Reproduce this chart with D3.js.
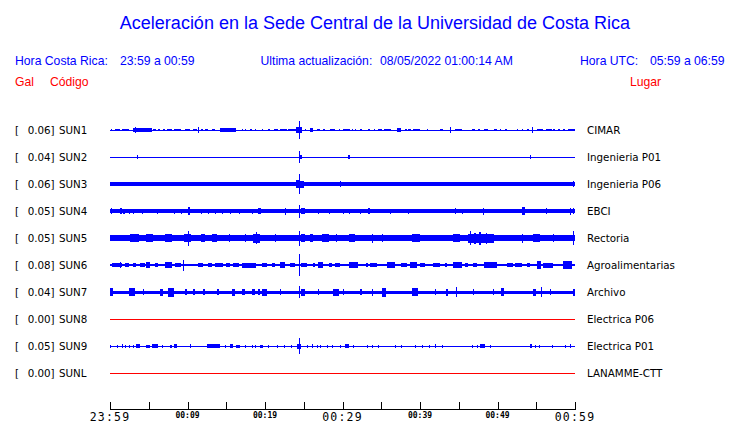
<!DOCTYPE html>
<html><head><meta charset="utf-8">
<script src="https://cdn.jsdelivr.net/npm/d3@7"></script>
<style>body{margin:0;background:#fff}svg{display:block}</style>
</head><body>
<script>
// ---------- data ----------
const title = "Aceleración en la Sede Central de la Universidad de Costa Rica";
const horaCR = "23:59 a 00:59";
const horaUTC = "05:59 a 06:59";
const updated = "08/05/2022 01:00:14 AM";

const codes  = ["SUN1","SUN2","SUN3","SUN4","SUN5","SUN6","SUN7","SUN8","SUN9","SUNL"];
const places = ["CIMAR","Ingenieria P01","Ingenieria P06","EBCI","Rectoria","Agroalimentarias","Archivo","Electrica P06","Electrica P01","LANAMME-CTT"];
const gals   = [0.06,0.04,0.06,0.05,0.05,0.08,0.04,0.00,0.05,0.00];
// background (noise) half-amplitude of each trace, relative units
const baseAmps = [0.5,0.5,1.6,1.8,3.1,0.8,1.5,0.5,0.5,0.5];

// minutes after 23:59
const tickMinutes  = [0,5,10,15,20,25,30,35,40,45,50,55,60];
const labelMinutes = [0,10,20,30,40,50,60];
const labelTexts   = ["23:59","00:09","00:19","00:29","00:39","00:49","00:59"];
const bigLabels    = ["23:59","00:29","00:59"];

// bursts: [start minute, end minute, half-amplitude]
const sun1Events = [[0.1,0.3,1.4],[0.65,1.3,1.4],[1.5,2.4,1.4],[3.0,5.4,1.6],[3.2,3.3,3],[5.6,5.9,1.4],[6.2,6.4,1.4],[6.9,7.1,1.4],[7.3,8.0,1.4],[8.2,9.2,1.4],[9.7,10.3,1.4],[10.75,11.2,1.4],[11.3,11.3,3],[11.8,12.0,1.4],[12.3,12.7,1.4],[13.1,13.5,1.4],[14.2,16.3,1.6],[17.0,17.2,1.4],[17.4,17.5,1.4],[18.1,18.3,1.4],[18.7,18.9,1.4],[19.6,19.7,1.4],[20.4,20.6,1.4],[21.1,21.7,1.4],[21.9,22.8,1.4],[23.0,23.3,1.4],[23.4,24.1,1.4],[24.0,24.8,3],[24.4,24.4,9],[25.2,25.3,1.4],[25.8,26.2,2.2],[26.7,27.1,1.4],[27.5,27.7,1.4],[28.4,29.0,1.4],[29.5,29.7,1.4],[30.0,31.0,1.4],[31.2,31.4,1.4],[31.6,31.8,1.4],[32.3,32.5,1.4],[33.3,33.5,1.4],[34.0,34.2,1.4],[34.6,35.1,1.4],[35.3,36.3,1.4],[37.0,37.6,2.2],[38.1,38.3,1.4],[38.5,38.9,1.4],[39.1,40.0,1.4],[40.9,41.0,1.4],[42.6,43.0,1.4],[43.9,43.9,3],[44.5,45.4,1.4],[46.7,47.1,1.4],[47.5,47.7,1.4],[48.2,48.8,1.4],[49.5,49.9,1.4],[50.3,50.5,1.4],[51.0,51.2,1.4],[52.5,52.6,1.4],[53.1,53.3,1.4],[53.8,54.0,1.4],[54.5,54.5,3],[55.1,55.9,1.4],[56.3,57.0,1.4],[57.2,57.4,1.4],[57.8,58.0,1.4],[58.5,58.7,1.4],[59.1,60.0,1.4]];
const sun2Events = [[3.5,3.5,2],[24.4,24.4,6],[24.45,24.8,2],[30.7,31.0,2],[54.2,54.3,2]];
const sun3Events = [[0,1.0,2],[24.0,24.4,4],[24.4,24.4,10],[24.45,25.0,3.5],[29.7,29.7,3],[59.8,59.9,3]];
const sun4Events = [[0.1,0.2,2.7],[1.3,1.5,2.7],[1.7,1.9,2.5],[2.4,2.6,2.5],[3.0,3.0,2.5],[4.1,4.1,2.5],[6.0,6.0,2.5],[8.2,8.2,2.5],[9.2,9.2,2.5],[10.1,10.3,4.2],[11.8,11.8,2.5],[12.7,12.7,2.5],[13.5,13.5,2.5],[14.4,14.4,2.5],[15.5,15.5,2.5],[16.6,16.6,2.5],[18.3,18.3,2.5],[19.1,19.5,3],[22.6,22.6,3.5],[24.4,24.4,6.5],[24.7,25.2,2.7],[26.9,26.9,2.5],[28.2,28.2,2.5],[30.1,30.1,2.5],[30.9,30.9,2.5],[32.3,32.3,2.5],[33.3,33.5,3],[36.1,36.1,2.5],[38.5,38.5,2.5],[44.5,44.5,3],[45.4,45.4,2.5],[48.1,48.2,3.5],[53.2,53.5,4],[56.2,56.2,2.7],[59.4,59.4,3.5],[59.7,59.7,3]];
const sun5Events = [[2.6,3.7,4.3],[4.7,5.6,4],[7.1,8.0,4],[9.5,10.5,4.3],[10.1,10.1,7.5],[11.8,12.3,4],[13.1,13.8,4],[15.3,15.4,4],[17.4,17.5,4],[18.5,19.4,4.5],[18.9,18.9,5.8],[21.3,21.4,4],[24.4,24.4,7.5],[24.7,25.2,4.3],[25.8,26.2,4],[27.3,28.2,4.3],[29.2,29.3,4],[30.8,31.6,4.3],[33.8,33.9,4.5],[35.1,35.2,4],[39.0,40.0,4.3],[44.3,45.2,4],[46.2,49.5,4.5],[46.4,46.5,7],[47.0,47.2,5.5],[47.6,47.9,6.5],[48.5,48.7,5.5],[53.1,53.2,4.5],[54.6,55.5,4],[57.2,57.3,4],[59.8,59.9,7]];
const sun6Events = [[0.2,1.5,2.4],[1.3,1.3,3.2],[1.9,2.4,2.4],[3.0,3.4,2.4],[3.9,4.5,2.4],[4.7,5.2,2.8],[5.8,6.2,2.4],[7.1,8.0,3.2],[8.4,9.2,2.4],[9.4,9.4,5.5],[11.4,12.0,2.4],[12.7,13.1,2.4],[13.5,14.6,2.4],[15.0,15.5,2.4],[15.9,16.6,2.4],[17.0,18.9,2.5],[19.6,20.2,2.4],[20.9,21.3,2.4],[21.9,22.6,2.8],[23.2,23.9,2.4],[24.4,24.4,11],[24.7,25.4,2.4],[26.2,26.4,2.4],[26.9,27.5,2.8],[28.2,28.6,2.4],[29.0,29.7,2.4],[30.8,32.0,2.8],[33.0,33.3,2.4],[33.5,34.4,2.4],[35.7,36.8,2.8],[37.6,38.3,2.4],[38.7,39.6,2.8],[40.0,40.6,2.4],[41.7,42.6,2.4],[43.2,43.5,2.4],[44.3,45.4,2.8],[45.8,46.2,2.4],[46.9,47.3,2.4],[48.2,49.9,2.8],[51.2,52.0,2.4],[52.3,53.1,2.4],[53.8,54.2,2.4],[55.1,55.6,3.8],[55.9,57.2,2.5],[58.5,59.6,3.8]];
const sun7Events = [[0,0.4,4],[2.4,3.2,4],[4.3,4.4,3],[6.5,6.9,3.5],[7.5,8.2,4.5],[9.7,9.9,3],[10.75,11.0,3],[12.0,12.2,3],[13.8,14.0,3],[15.7,16.1,3.5],[17.0,17.4,3],[18.3,18.7,3],[19.1,19.3,3],[19.6,20.2,3.5],[21.9,22.0,3],[24.4,24.4,6],[24.7,25.2,3.5],[26.9,27.0,3],[28.8,29.5,3.5],[30.0,30.1,3],[32.3,32.5,3],[33.8,33.9,3.5],[35.1,35.6,4.5],[39.0,39.8,4],[41.9,42.1,3],[43.4,43.6,3.5],[44.6,44.8,5.2],[46.9,47.0,3],[49.4,49.6,3],[50.5,50.9,4],[54.6,55.0,3.5],[55.6,55.8,5],[56.8,56.9,3],[59.8,60,3.5]];
const sun8Events = [];
const sun9Events = [[0,0,1.5],[0.86,0.86,1.5],[1.5,1.7,2],[1.9,1.9,1.5],[2.4,2.4,1.5],[3.0,3.0,1.5],[3.4,3.9,1.7],[4.7,5.2,1.5],[5.4,6.2,2],[6.75,6.75,1.5],[7.7,8.0,1.5],[8.2,8.6,1.8],[10.3,10.5,2],[12.5,14.2,1.7],[14.8,14.8,1.5],[15.5,15.9,2],[16.3,16.8,1.5],[17.4,17.4,1.5],[18.3,18.3,1.5],[18.7,18.9,1.5],[19.4,19.8,1.5],[20.4,20.4,1.5],[21.5,21.5,1.5],[22.4,22.4,1.5],[23.4,23.4,1.5],[24.1,24.7,2.5],[24.4,24.4,8],[25.4,25.4,1.5],[26.0,26.2,1.8],[26.7,26.7,1.5],[27.1,27.1,1.5],[28.0,28.0,1.5],[28.6,28.6,1.5],[29.7,29.7,1.5],[30.3,30.8,1.8],[31.4,31.4,1.5],[33.1,33.1,1.5],[33.8,33.8,1.5],[34.6,34.6,1.5],[36.8,36.8,1.5],[37.6,37.6,1.5],[39.4,39.4,1.5],[40.2,40.2,1.5],[41.1,41.1,1.5],[41.9,41.9,1.7],[42.8,42.8,1.5],[46.7,46.7,1.5],[47.3,47.3,1.5],[47.7,48.4,1.8],[49.0,49.0,1.5],[54.2,54.4,2],[54.8,54.8,1.5],[55.3,55.3,1.5],[57.0,57.0,1.5],[58.7,58.7,1.5],[59.4,59.4,2]];
const sunLEvents = [];
const allEvents = [sun1Events,sun2Events,sun3Events,sun4Events,sun5Events,sun6Events,sun7Events,sun8Events,sun9Events,sunLEvents];

// ---------- chart ----------
const W = 740, H = 423;
const BLUE = "#0000ff", RED = "#ff0000";
const svg = d3.select("body").append("svg").attr("width", W).attr("height", H);

const x = d3.scaleLinear().domain([0, 60]).range([110, 575]);
const y = d3.scalePoint().domain(codes).range([130, 373]);
const amp = d3.scaleLinear().domain([0, 10]).range([0, 10]);

const sans = "'Liberation Sans', Arial, Helvetica, sans-serif";
const dv = "'DejaVu Sans', sans-serif";

svg.append("text").attr("x", 375).attr("y", 28.5).attr("text-anchor", "middle")
  .attr("font-family", sans).attr("font-size", 18).attr("fill", BLUE).text(title);

const hdr = [
  {t: "Hora Costa Rica:", x: 15, c: BLUE, y: 65},
  {t: horaCR, x: 120, c: BLUE, y: 65},
  {t: "Ultima actualización:", x: 260.5, c: BLUE, y: 65},
  {t: updated, x: 380, c: BLUE, y: 65},
  {t: "Hora UTC:", x: 580, c: BLUE, y: 65},
  {t: horaUTC, x: 650, c: BLUE, y: 65},
  {t: "Gal", x: 15, c: RED, y: 85.5},
  {t: "Código", x: 50, c: RED, y: 85.5},
  {t: "Lugar", x: 630, c: RED, y: 85.5}
];
svg.selectAll("text.hdr").data(hdr).join("text").attr("class", "hdr")
  .attr("x", d => d.x).attr("y", d => d.y).attr("fill", d => d.c)
  .attr("font-family", sans).attr("font-size", 12.2).text(d => d.t);

// traces
const rows = codes.map((c, i) => ({code: c, place: places[i], gal: gals[i], base: baseAmps[i], ev: allEvents[i]}));
const g = svg.append("g").attr("shape-rendering", "crispEdges");
rows.forEach(r => {
  const cy = y(r.code);
  const col = r.gal === 0 ? RED : BLUE;
  const row = g.append("g");
  row.append("rect")
    .attr("x", x(0)).attr("width", x(60) - x(0))
    .attr("y", cy - amp(r.base)).attr("height", Math.max(1, 2 * amp(r.base)))
    .attr("fill", col);
  row.selectAll("rect.ev").data(r.ev).join("rect").attr("class", "ev")
    .attr("x", d => x(d[0]))
    .attr("width", d => Math.max(1, x(d[1]) - x(d[0])))
    .attr("y", d => cy - amp(d[2]))
    .attr("height", d => 2 * amp(d[2]))
    .attr("fill", col);
});

// left / right labels
const lab = svg.append("g").attr("font-family", dv).attr("font-size", 10.3).attr("fill", "#000");
rows.forEach(r => {
  const by = y(r.code) + 4;
  lab.append("text").attr("x", 15).attr("y", by).text("[");
  lab.append("text").attr("x", 27.7).attr("y", by).text(r.gal.toFixed(2) + "]");
  lab.append("text").attr("x", 59).attr("y", by).text(r.code);
  lab.append("text").attr("x", 587).attr("y", by).text(r.place);
});

// time axis
const ax = svg.append("g").attr("shape-rendering", "crispEdges");
ax.append("line").attr("x1", x(0)).attr("x2", x(60)).attr("y1", 409.5).attr("y2", 409.5).attr("stroke", "#000");
ax.selectAll("line.tk").data(tickMinutes).join("line").attr("class", "tk")
  .attr("x1", d => Math.round(x(d)) + 0.5).attr("x2", d => Math.round(x(d)) + 0.5)
  .attr("y1", 402).attr("y2", 409.5).attr("stroke", "#000");
svg.selectAll("text.tl").data(labelMinutes).join("text").attr("class", "tl")
  .attr("x", d => x(d)).attr("text-anchor", "middle")
  .attr("font-family", "'DejaVu Sans Mono', monospace")
  .each(function(d, i) {
    const t = labelTexts[i];
    const big = bigLabels.includes(t);
    d3.select(this).attr("y", big ? 420.5 : 417.5)
      .attr("font-size", big ? 11.5 : 8)
      .attr("font-weight", big ? "normal" : "bold")
      .attr("letter-spacing", big ? 1.2 : 0)
      .text(t);
  });
</script>
</body></html>
